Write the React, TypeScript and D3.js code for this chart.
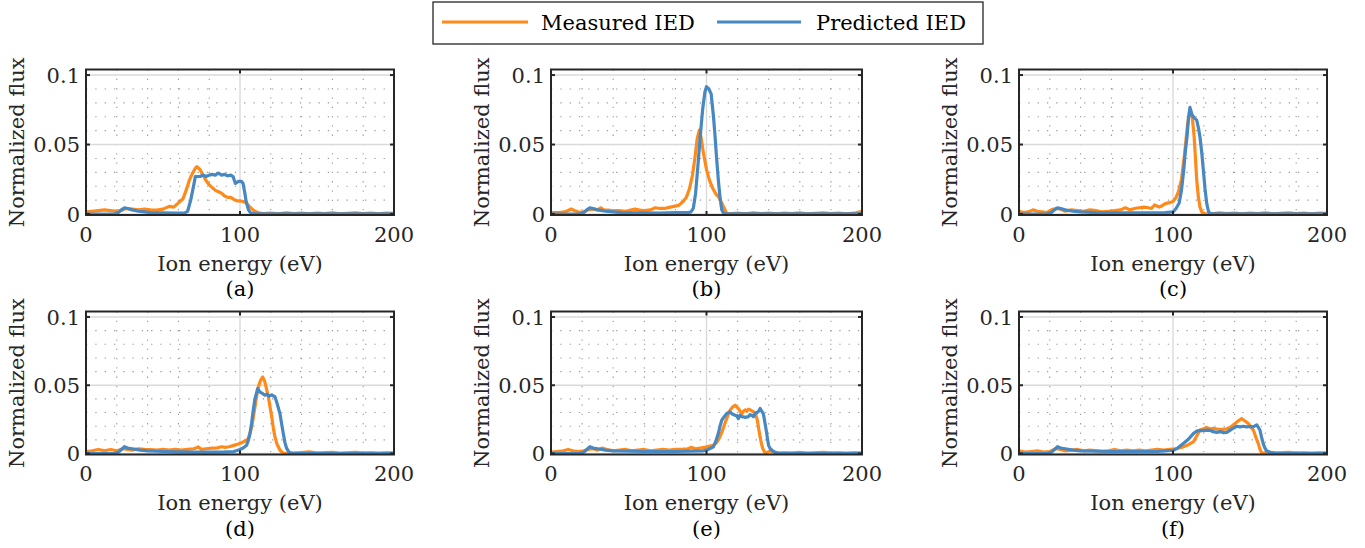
import React from "react";
import * as d3 from "d3";

type Pt = [number, number];

const panelLabels = ["(a)", "(b)", "(c)", "(d)", "(e)", "(f)"];
const xTicks = [0, 100, 200];
const yTicks = [0, 0.05, 0.1];
const yTickLabels = ["0", "0.05", "0.1"];
const xMinor = [20, 40, 60, 80, 120, 140, 160, 180];
const yMinor = [0.01, 0.02, 0.03, 0.04, 0.06, 0.07, 0.08, 0.09];
const seriesNames = ["Measured IED", "Predicted IED"];
const seriesColors = ["#ff8a1c", "#4787c2"];

const tailM: Pt[] = [[120, 0.0006], [125, 0.0002], [130, 0.0008], [135, 0.0003], [140, 0.0007], [145, 0.0002], [150, 0.0006], [155, 0.0003], [160, 0.0008], [165, 0.0002], [170, 0.0005], [175, 0.0008], [180, 0.0003], [185, 0.0006], [190, 0.0002], [195, 0.0006], [200, 0.0004]];

const measuredA: Pt[] = [[0, 0.0015], [4, 0.002], [8, 0.0025], [12, 0.003], [16, 0.0025], [20, 0.002], [24, 0.003], [26, 0.004], [30, 0.0035], [34, 0.003], [38, 0.0035], [42, 0.003], [46, 0.0028], [50, 0.0035], [54, 0.0055], [57, 0.005], [60, 0.008], [63, 0.011], [65, 0.017], [67, 0.024], [69, 0.029], [71, 0.033], [72, 0.034], [74, 0.032], [76, 0.028], [78, 0.024], [80, 0.021], [82, 0.019], [84, 0.017], [86, 0.016], [88, 0.015], [90, 0.013], [92, 0.012], [94, 0.012], [96, 0.0105], [98, 0.0095], [100, 0.0095], [102, 0.009], [104, 0.008], [106, 0.0055], [108, 0.0035], [110, 0.0018], [112, 0.0008], [115, 0.0003], ...tailM];
const predictedA: Pt[] = [[0, 0], [10, 0], [18, 0], [21, 0.001], [23, 0.003], [25, 0.0045], [27, 0.004], [30, 0.003], [34, 0.002], [38, 0.0015], [42, 0.001], [50, 0.0008], [58, 0.0006], [64, 0.0006], [66, 0.002], [68, 0.01], [70, 0.021], [71, 0.027], [74, 0.027], [76, 0.028], [78, 0.027], [80, 0.028], [82, 0.0285], [84, 0.028], [86, 0.0295], [88, 0.028], [90, 0.0285], [92, 0.0275], [94, 0.028], [95.5, 0.027], [97, 0.022], [99, 0.0235], [101, 0.0235], [102, 0.022], [103, 0.016], [104, 0.009], [105.5, 0.003], [107, 0.0006], [110, 0.0002], [200, 0.0002]];

const measuredB: Pt[] = [[0, 0.001], [5, 0.001], [9, 0.0015], [11, 0.0025], [13, 0.0036], [15, 0.0025], [18, 0.0012], [21, 0.0015], [24, 0.003], [27, 0.0035], [30, 0.003], [32, 0.0045], [34, 0.003], [37, 0.0028], [40, 0.0022], [44, 0.0025], [48, 0.002], [52, 0.003], [54, 0.0035], [57, 0.0028], [60, 0.0025], [64, 0.003], [67, 0.0045], [70, 0.004], [73, 0.004], [76, 0.0048], [79, 0.0055], [82, 0.0062], [85, 0.009], [87, 0.012], [89, 0.018], [91, 0.028], [92.5, 0.04], [94, 0.054], [95.4, 0.0604], [96.5, 0.055], [98, 0.044], [100, 0.032], [102, 0.024], [104, 0.0185], [106, 0.0145], [108, 0.012], [110, 0.0075], [111.5, 0.004], [113, 0.0005], [116, 0.0003], ...tailM.slice(0, -1), [200, 0.002]];
const predictedB: Pt[] = [[0, 0], [18, 0], [21, 0.001], [23, 0.003], [25, 0.0045], [27, 0.004], [30, 0.003], [35, 0.002], [40, 0.0015], [45, 0.001], [55, 0.0008], [70, 0.0006], [80, 0.001], [88, 0.001], [90, 0.0015], [91.5, 0.004], [93, 0.015], [94.5, 0.035], [96, 0.056], [97.5, 0.075], [99, 0.088], [100, 0.0916], [101.5, 0.09], [103, 0.0865], [104.5, 0.07], [105.5, 0.056], [106.5, 0.04], [107.6, 0.0245], [108.7, 0.012], [109.8, 0.003], [111, 0.0005], [113, 0.0002], [200, 0.0002]];

const measuredC: Pt[] = [[0, 0.002], [3, 0.001], [6, 0.0015], [9, 0.003], [12, 0.002], [15, 0.0015], [18, 0.001], [21, 0.003], [24, 0.004], [27, 0.0035], [30, 0.002], [34, 0.003], [38, 0.0025], [42, 0.002], [46, 0.003], [50, 0.0025], [54, 0.0015], [58, 0.002], [62, 0.0025], [66, 0.003], [69, 0.0045], [72, 0.003], [75, 0.004], [78, 0.0045], [81, 0.005], [84, 0.0045], [86, 0.004], [88, 0.0065], [91, 0.005], [93, 0.006], [95, 0.0075], [97, 0.008], [100, 0.009], [102, 0.012], [103.5, 0.016], [105.5, 0.025], [107.6, 0.044], [109.5, 0.065], [111, 0.075], [112.5, 0.07], [113.7, 0.056], [114.6, 0.04], [115.4, 0.0245], [116.5, 0.012], [117.5, 0.005], [119, 0.0008], [121, 0.0003], ...tailM.slice(1)];
const predictedC: Pt[] = [[0, 0], [18, 0], [21, 0.001], [23, 0.003], [25, 0.0045], [27, 0.004], [30, 0.003], [35, 0.002], [40, 0.0015], [50, 0.001], [60, 0.0008], [80, 0.0008], [95, 0.001], [100, 0.0015], [102, 0.004], [104, 0.008], [105.5, 0.017], [107, 0.032], [108, 0.045], [109.1, 0.0556], [110, 0.068], [111, 0.0767], [112.5, 0.071], [114, 0.069], [115.4, 0.0676], [116.5, 0.062], [117.5, 0.0556], [118.6, 0.045], [119.7, 0.0317], [120.8, 0.018], [121.9, 0.0077], [123, 0.002], [124, 0.0005], [126, 0.0002], [200, 0.0002]];

const measuredD: Pt[] = [[0, 0.0015], [4, 0.002], [8, 0.003], [12, 0.002], [16, 0.003], [20, 0.002], [24, 0.0035], [27, 0.003], [30, 0.0025], [34, 0.0035], [38, 0.003], [42, 0.0028], [46, 0.0025], [50, 0.003], [54, 0.0025], [58, 0.003], [62, 0.0025], [66, 0.003], [70, 0.0035], [73, 0.0048], [75, 0.003], [78, 0.0035], [82, 0.004], [85, 0.004], [88, 0.005], [90, 0.0045], [93, 0.005], [96, 0.006], [99, 0.007], [102, 0.0085], [104, 0.0095], [105.4, 0.011], [106.5, 0.015], [107.6, 0.0195], [108.7, 0.027], [109.7, 0.034], [111, 0.043], [112, 0.049], [113.5, 0.054], [114.7, 0.056], [116, 0.053], [117.3, 0.047], [118.4, 0.0415], [119.5, 0.034], [120.6, 0.027], [121.6, 0.019], [122.7, 0.0122], [124, 0.007], [126, 0.0024], [128, 0.0003], [130, 0.0002], [135, 0.0003], [140, 0.0007], [145, 0.0012], [150, 0.0004], ...tailM.slice(8)];
const predictedD: Pt[] = [[0, 0], [18, 0], [21, 0.001], [23, 0.003], [25, 0.005], [27, 0.004], [30, 0.0035], [35, 0.0025], [40, 0.002], [50, 0.0015], [60, 0.0012], [70, 0.001], [80, 0.001], [90, 0.0012], [96, 0.0015], [100, 0.003], [102, 0.004], [104.3, 0.006], [105.5, 0.01], [106.5, 0.0146], [107.5, 0.022], [108.6, 0.0317], [109.7, 0.04], [111.5, 0.0476], [113, 0.045], [114.5, 0.044], [116.2, 0.0427], [117.5, 0.0435], [119, 0.042], [120.6, 0.043], [122.7, 0.0415], [124, 0.037], [126, 0.029], [127, 0.022], [128.1, 0.0146], [129.2, 0.008], [130.3, 0.0037], [132, 0.0008], [134, 0.0003], [200, 0.0002]];

const measuredE: Pt[] = [[0, 0.001], [4, 0.0015], [8, 0.002], [11, 0.003], [14, 0.002], [18, 0.0015], [21, 0.002], [24, 0.003], [27, 0.0035], [30, 0.0025], [33, 0.004], [36, 0.003], [40, 0.002], [44, 0.0025], [48, 0.003], [52, 0.002], [56, 0.0025], [60, 0.003], [64, 0.002], [68, 0.0025], [72, 0.003], [76, 0.0025], [80, 0.003], [84, 0.003], [88, 0.0035], [90, 0.0045], [93, 0.0035], [96, 0.004], [99, 0.0045], [102, 0.0055], [104.4, 0.006], [106.5, 0.008], [108.5, 0.012], [110, 0.016], [111.8, 0.022], [113.5, 0.027], [115.1, 0.0317], [116.8, 0.034], [118.4, 0.0354], [119.5, 0.034], [120.5, 0.033], [121.6, 0.031], [122.7, 0.029], [123.8, 0.031], [124.8, 0.032], [126, 0.031], [127, 0.0325], [128, 0.032], [129.5, 0.031], [131.3, 0.03], [132.7, 0.0244], [133.6, 0.018], [134.5, 0.012], [135.4, 0.007], [136.2, 0.0037], [137.7, 0.0003], [139, 0.0008], [141, 0.002], [143, 0.0008], [146, 0.0003], ...tailM.slice(6)];
const predictedE: Pt[] = [[0, 0], [18, 0], [21, 0.001], [23, 0.003], [25, 0.005], [27, 0.004], [30, 0.0035], [35, 0.0025], [40, 0.002], [50, 0.0018], [60, 0.0015], [70, 0.0015], [80, 0.0015], [90, 0.0018], [98, 0.002], [100, 0.0025], [102, 0.0035], [104.4, 0.0049], [106, 0.009], [107.6, 0.0146], [108.7, 0.02], [109.8, 0.0244], [111.4, 0.027], [113, 0.0293], [115.1, 0.0305], [116.5, 0.029], [118.4, 0.028], [119.5, 0.0275], [120.5, 0.0256], [121.5, 0.028], [122.6, 0.027], [123.7, 0.0268], [125, 0.0265], [126.9, 0.027], [128, 0.0285], [129.1, 0.028], [130.2, 0.027], [131.3, 0.0293], [132.5, 0.03], [133.5, 0.031], [134.5, 0.033], [135.5, 0.031], [136.6, 0.029], [137.5, 0.023], [138.4, 0.017], [139.2, 0.011], [139.9, 0.006], [141, 0.0035], [142.1, 0.0024], [144, 0.001], [146, 0.0003], [200, 0.0002]];

const measuredF: Pt[] = [[0, 0.002], [4, 0.001], [8, 0.0015], [12, 0.002], [16, 0.001], [20, 0.0015], [24, 0.0035], [27, 0.003], [30, 0.002], [34, 0.0025], [38, 0.003], [42, 0.002], [46, 0.0025], [50, 0.002], [54, 0.0015], [58, 0.002], [62, 0.003], [66, 0.002], [70, 0.0025], [74, 0.002], [78, 0.0025], [82, 0.002], [86, 0.0025], [90, 0.003], [94, 0.0025], [98, 0.003], [102, 0.0035], [106.7, 0.0049], [110, 0.0065], [113.2, 0.0085], [115.5, 0.013], [117.5, 0.017], [119.5, 0.018], [121.9, 0.019], [124, 0.018], [126, 0.0185], [128.4, 0.018], [131, 0.0175], [134.9, 0.018], [137.5, 0.0195], [140.3, 0.022], [142.5, 0.024], [144.6, 0.0256], [146.5, 0.024], [148.9, 0.022], [150.5, 0.0195], [152.2, 0.017], [153.8, 0.012], [155.4, 0.0073], [156.5, 0.003], [157.6, 0.0003], [159, 0.0003], [162, 0.001], [165, 0.0005], ...tailM.slice(10)];
const predictedF: Pt[] = [[0, 0], [18, 0], [21, 0.001], [23, 0.003], [25, 0.005], [27, 0.004], [30, 0.0035], [35, 0.0025], [40, 0.002], [50, 0.0018], [60, 0.0015], [70, 0.0015], [80, 0.0015], [90, 0.0015], [95, 0.002], [100.2, 0.0024], [103, 0.004], [106.7, 0.0073], [110, 0.0105], [113.2, 0.0146], [115.5, 0.0165], [117.5, 0.017], [120, 0.0168], [122, 0.0172], [124, 0.017], [126, 0.016], [128.4, 0.0155], [131, 0.016], [133, 0.0152], [134.9, 0.0155], [137, 0.017], [139, 0.0185], [141.4, 0.02], [143.5, 0.0195], [145.5, 0.02], [147.9, 0.0195], [150, 0.0198], [152, 0.0195], [154.4, 0.021], [155.5, 0.019], [156.5, 0.017], [157.5, 0.012], [158.6, 0.0073], [159.7, 0.004], [160.8, 0.002], [163, 0.0008], [166, 0.0003], [200, 0.0002]];

const measured = [measuredA, measuredB, measuredC, measuredD, measuredE, measuredF];
const predicted = [predictedA, predictedB, predictedC, predictedD, predictedE, predictedF];

const colLeft = [86, 551, 1019];
const colRight = [394, 862, 1327];
const rowTop = [69.5, 311.5];
const rowBottom = [215, 454.5];

const FONT = "'DejaVu Serif', serif";
const FS = 21;

function Panel({ idx }: { idx: number }) {
  const c = idx % 3;
  const r = Math.floor(idx / 3);
  const x = d3.scaleLinear().domain([0, 200]).range([colLeft[c], colRight[c]]);
  const y = d3.scaleLinear().domain([-0.0007, 0.104]).range([rowBottom[r], rowTop[r]]);
  const line = d3.line<Pt>().x((d) => x(d[0])).y((d) => y(d[1]));
  const x0 = colLeft[c], x1 = colRight[c], y0 = rowBottom[r], y1 = rowTop[r];
  const cx = (x0 + x1) / 2;
  const cy = (y0 + y1) / 2;
  const clipId = `clip-${idx}`;
  const tl = 4;
  return (
    <g>
      <defs>
        <clipPath id={clipId}>
          <rect x={x0} y={y1} width={x1 - x0} height={y0 - y1} />
        </clipPath>
      </defs>
      {xMinor.map((v) => (
        <line key={"xm" + v} x1={x(v)} x2={x(v)} y1={y1} y2={y0} stroke="#9a9a9a" strokeWidth={1.1} strokeDasharray="1.3,8" />
      ))}
      {yMinor.map((v) => (
        <line key={"ym" + v} x1={x0} x2={x1} y1={y(v)} y2={y(v)} stroke="#9a9a9a" strokeWidth={1.1} strokeDasharray="1.3,8" />
      ))}
      {xTicks.map((v) => (
        <line key={"xg" + v} x1={x(v)} x2={x(v)} y1={y1} y2={y0} stroke="#dadada" strokeWidth={1.4} />
      ))}
      {yTicks.map((v) => (
        <line key={"yg" + v} x1={x0} x2={x1} y1={y(v)} y2={y(v)} stroke="#dadada" strokeWidth={1.4} />
      ))}
      <g clipPath={`url(#${clipId})`}>
        <path d={line(measured[idx]) || ""} fill="none" stroke={seriesColors[0]} strokeWidth={3.2} strokeLinejoin="round" />
        <path d={line(predicted[idx]) || ""} fill="none" stroke={seriesColors[1]} strokeWidth={3.2} strokeLinejoin="round" />
      </g>
      <rect x={x0} y={y1} width={x1 - x0} height={y0 - y1} fill="none" stroke="#262626" strokeWidth={2} />
      {xTicks.map((v) => (
        <g key={"xt" + v}>
          <line x1={x(v)} x2={x(v)} y1={y0} y2={y0 - tl} stroke="#262626" strokeWidth={2} />
          <line x1={x(v)} x2={x(v)} y1={y1} y2={y1 + tl} stroke="#262626" strokeWidth={2} />
          <text x={x(v)} y={y0 + 26.5} textAnchor="middle" fontFamily={FONT} fontSize={FS} fill="#262626">{v}</text>
        </g>
      ))}
      {yTicks.map((v, i) => (
        <g key={"yt" + v}>
          <line x1={x0} x2={x0 + tl} y1={y(v)} y2={y(v)} stroke="#262626" strokeWidth={2} />
          <line x1={x1} x2={x1 - tl} y1={y(v)} y2={y(v)} stroke="#262626" strokeWidth={2} />
          <text x={x0 - 6} y={y(v)} dy="0.36em" textAnchor="end" fontFamily={FONT} fontSize={FS} fill="#262626">{yTickLabels[i]}</text>
        </g>
      ))}
      <text x={cx} y={y0 + 55.5} textAnchor="middle" fontFamily={FONT} fontSize={FS} fill="#262626">Ion energy (eV)</text>
      <text transform={`translate(${x0 - 62},${cy}) rotate(-90)`} textAnchor="middle" fontFamily={FONT} fontSize={FS} fill="#262626">Normalized flux</text>
      <text x={cx} y={y0 + 81} textAnchor="middle" fontFamily={FONT} fontSize={FS} fill="#000">{panelLabels[idx]}</text>
    </g>
  );
}

export default function App() {
  return (
    <svg width={1365} height={548} style={{ position: "absolute", left: 0, top: 0, background: "#fff" }}>
      <rect x={0} y={0} width={1365} height={548} fill="#fff" />
      {[0, 1, 2, 3, 4, 5].map((i) => (
        <Panel key={i} idx={i} />
      ))}
      <g>
        <rect x={433} y={2} width={550} height={42} fill="#fff" stroke="#262626" strokeWidth={1.3} />
        <line x1={442} x2={528} y1={22} y2={22} stroke={seriesColors[0]} strokeWidth={3.2} />
        <text x={541} y={30} fontFamily={FONT} fontSize={FS} fill="#000">{seriesNames[0]}</text>
        <line x1={717} x2={801} y1={22} y2={22} stroke={seriesColors[1]} strokeWidth={3.2} />
        <text x={816} y={30} fontFamily={FONT} fontSize={FS} fill="#000">{seriesNames[1]}</text>
      </g>
    </svg>
  );
}
